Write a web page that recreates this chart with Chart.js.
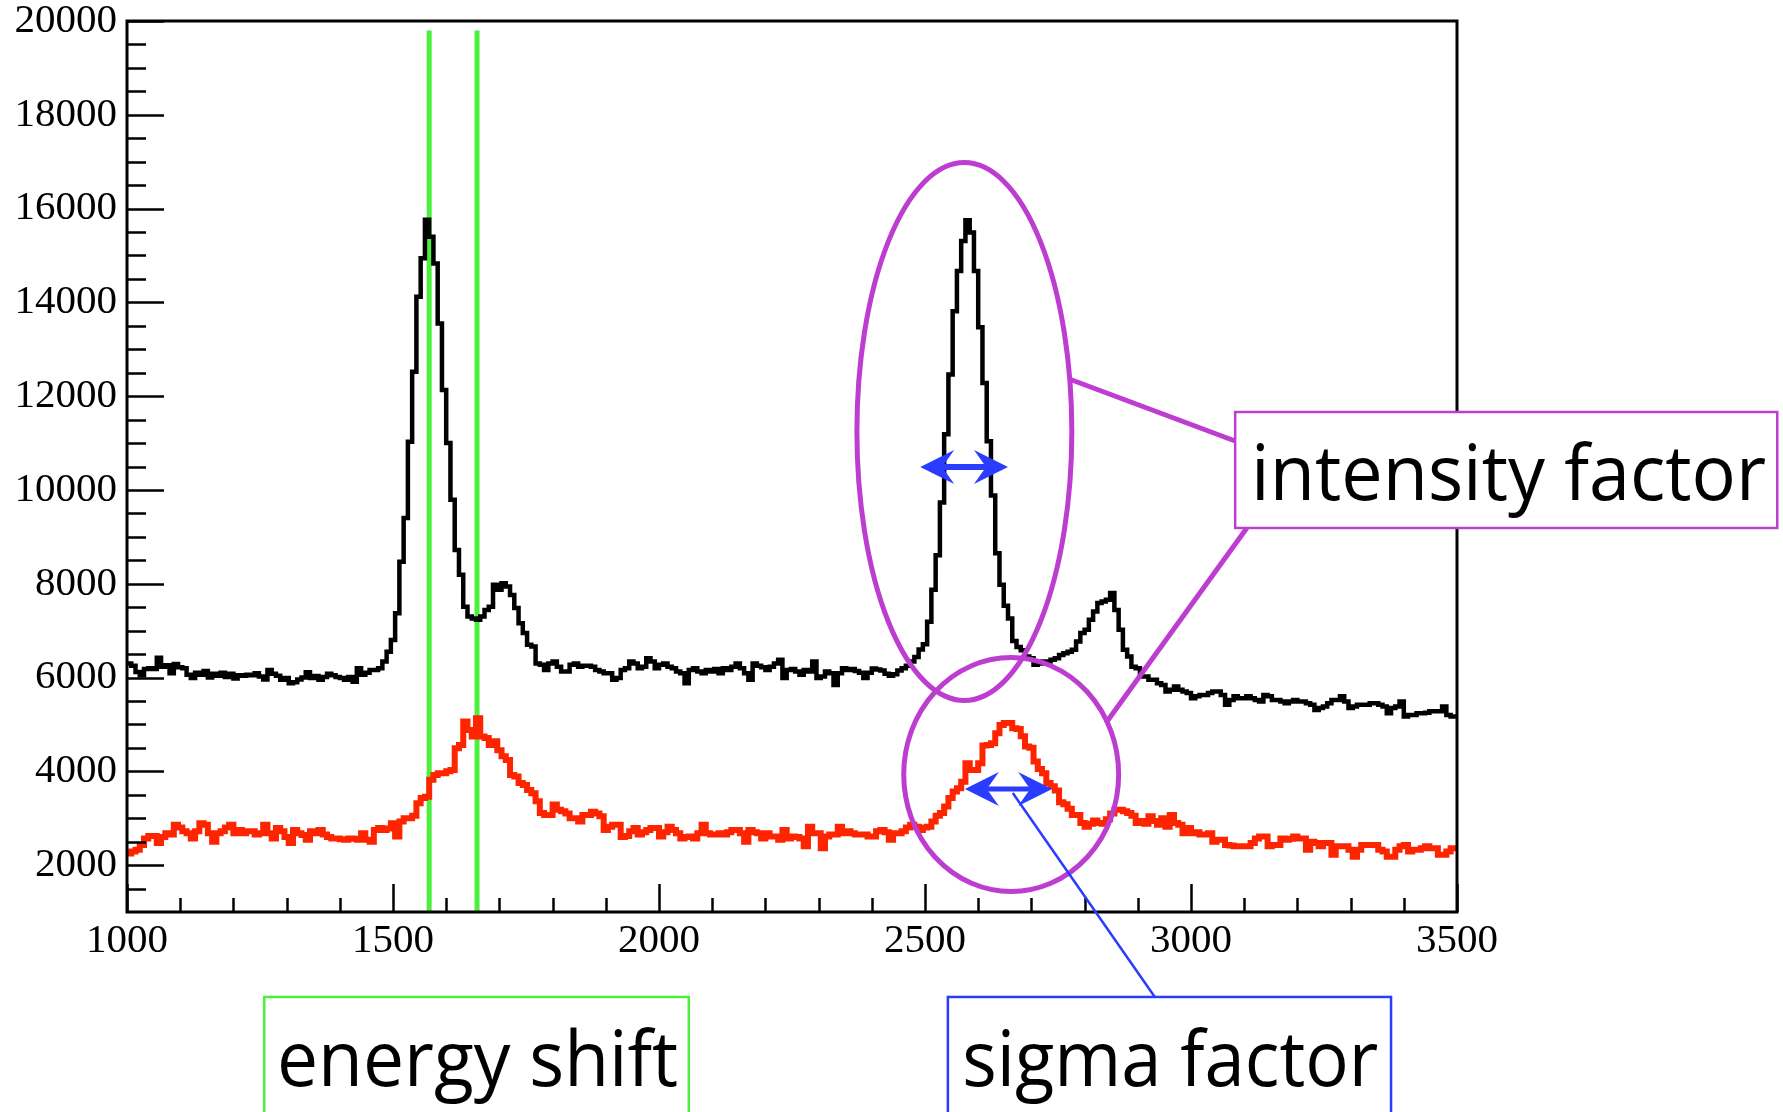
<!DOCTYPE html>
<html>
<head>
<meta charset="utf-8">
<script src="https://cdn.jsdelivr.net/npm/chart.js@4.4.1/dist/chart.umd.min.js"></script>
<style>
  html, body { margin: 0; padding: 0; background: #fff; }
</style>
</head>
<body>
<canvas id="spectrum" width="1783" height="1112"></canvas>
<script>
// histogram binning (channel units)
const binStart = 1000;
const binWidth = 8;

// upper spectrum (black), one value per bin starting at binStart
const spectrumTop = [
  6300, 6250, 6120, 6050, 6180, 6200, 6180, 6420, 6230, 6260,
  6090, 6290, 6220, 6200, 6060, 5990, 6100, 6060, 6140, 6000,
  6080, 6040, 6100, 6010, 6080, 5980, 6050, 6040, 6060, 6050,
  6090, 6020, 5960, 6160, 6080, 6040, 5950, 5990, 5880, 5900,
  5960, 6000, 6110, 5990, 6030, 5950, 6010, 6080, 6050, 6010,
  5990, 5950, 6010, 5910, 6200, 6060, 6100, 6160, 6160, 6200,
  6340, 6550, 6800, 7370, 8470, 9400, 11030, 12520, 14120, 14940,
  15760, 15400, 14830, 13550, 12130, 11000, 9790, 8720, 8190, 7510,
  7300, 7260, 7230, 7300, 7440, 7510, 7980, 7870, 8010, 7940,
  7760, 7480, 7160, 6950, 6700, 6660, 6300, 6270, 6160, 6300,
  6340, 6230, 6130, 6130, 6270, 6300, 6230, 6250, 6250, 6230,
  6160, 6130, 6090, 6090, 5950, 5990, 6160, 6200, 6340, 6300,
  6200, 6230, 6410, 6340, 6200, 6270, 6300, 6230, 6200, 6130,
  6090, 5880, 6160, 6200, 6130, 6090, 6160, 6130, 6180, 6090,
  6200, 6160, 6230, 6300, 6200, 6090, 5950, 6300, 6250, 6220,
  6160, 6230, 6300, 6380, 5990, 6160, 6180, 6130, 6060, 6160,
  6130, 6340, 5990, 6020, 6130, 6090, 5840, 6090, 6200, 6160,
  6180, 6140, 6100, 5990, 6100, 6190, 6170, 6150, 6080, 6040,
  6070, 6150, 6200, 6250, 6340, 6440, 6600, 6710, 7190, 7870,
  8610, 9730, 11190, 12460, 13810, 14670, 15310, 15750, 15490, 14670,
  13470, 12280, 11040, 9880, 8650, 7980, 7530, 7260, 6780, 6650,
  6580, 6450, 6410, 6270, 6300, 6340, 6340, 6380, 6410, 6480,
  6520, 6550, 6590, 6770, 6950, 7020, 7230, 7410, 7590, 7620,
  7660, 7800, 7440, 7020, 6590, 6450, 6230, 6200, 6020, 6020,
  5950, 5950, 5880, 5840, 5700, 5740, 5810, 5740, 5700, 5670,
  5560, 5600, 5630, 5630, 5670, 5700, 5700, 5630, 5420, 5520,
  5600, 5560, 5560, 5600, 5560, 5520, 5490, 5630, 5600, 5520,
  5520, 5490, 5450, 5490, 5520, 5490, 5490, 5450, 5420, 5310,
  5350, 5380, 5450, 5520, 5520, 5600, 5490, 5350, 5380, 5420,
  5420, 5420, 5450, 5450, 5420, 5380, 5240, 5350, 5380, 5490,
  5170, 5200, 5200, 5240, 5240, 5250, 5280, 5280, 5280, 5380,
  5200, 5170, 5170
];

// lower spectrum (red)
const spectrumBottom = [
  2250, 2290, 2330, 2430, 2570, 2620, 2620, 2470, 2600, 2680,
  2650, 2860, 2800, 2720, 2680, 2570, 2720, 2890, 2860, 2680,
  2500, 2680, 2720, 2800, 2860, 2680, 2750, 2680, 2720, 2720,
  2650, 2680, 2860, 2680, 2570, 2790, 2720, 2600, 2470, 2750,
  2680, 2640, 2540, 2720, 2680, 2750, 2650, 2600, 2570, 2570,
  2550, 2540, 2570, 2560, 2540, 2680, 2540, 2500, 2750, 2790,
  2750, 2780, 2890, 2610, 2930, 3000, 3000, 3050, 3320, 3430,
  3460, 3820, 3920, 3960, 3960, 4000, 4030, 4490, 4560, 5060,
  4880, 4740, 5130, 4740, 4710, 4560, 4640, 4450, 4320, 4240,
  3920, 3890, 3750, 3710, 3600, 3530, 3360, 3110, 3070, 3070,
  3290, 3180, 3150, 3100, 3000, 3000, 2930, 3070, 3070, 3140,
  3100, 3040, 2750, 2820, 2860, 2860, 2600, 2620, 2720, 2790,
  2650, 2700, 2750, 2790, 2790, 2610, 2700, 2820, 2750, 2680,
  2570, 2600, 2610, 2570, 2680, 2860, 2680, 2650, 2650, 2680,
  2650, 2700, 2750, 2750, 2680, 2500, 2750, 2700, 2680, 2570,
  2680, 2610, 2610, 2540, 2750, 2570, 2610, 2600, 2570, 2400,
  2820, 2680, 2680, 2360, 2610, 2650, 2650, 2820, 2680, 2720,
  2680, 2650, 2650, 2650, 2610, 2610, 2720, 2750, 2700, 2540,
  2680, 2680, 2720, 2800, 2860, 2820, 2750, 2800, 2820, 2930,
  3050, 3110, 3250, 3430, 3570, 3640, 3780, 4170, 4030, 4030,
  4170, 4550, 4560, 4600, 4810, 4990, 5030, 5030, 4920, 4900,
  4750, 4530, 4500, 4210, 4050, 3960, 3750, 3680, 3590, 3340,
  3300, 3200, 3070, 3070, 2900, 2820, 2880, 2950, 2900, 2880,
  2980, 3100, 3180, 3180, 3150, 3110, 3050, 2900, 2940, 2880,
  3040, 2940, 2860, 3000, 2820, 3070, 2900, 2860, 2680, 2790,
  2680, 2700, 2650, 2650, 2680, 2500, 2540, 2540, 2430, 2420,
  2400, 2400, 2400, 2400, 2470, 2570, 2610, 2610, 2400, 2430,
  2430, 2570, 2540, 2560, 2610, 2570, 2570, 2330, 2500, 2470,
  2400, 2470, 2470, 2220, 2400, 2400, 2400, 2330, 2180, 2330,
  2430, 2430, 2430, 2430, 2330, 2290, 2180, 2180, 2330, 2400,
  2430, 2290, 2330, 2330, 2360, 2400, 2360, 2360, 2220, 2220,
  2290, 2360, 2360
];

// vertical markers for the energy shift
const shiftMarkers = [1568, 1658];
const markerRange = [1000, 19800];

// axis ticks
const xTicks = [1000, 1500, 2000, 2500, 3000, 3500];
const yTicks = [2000, 4000, 6000, 8000, 10000, 12000, 14000, 16000, 18000, 20000];
const xMinorStep = 100;
const yMinorStep = 500;

// histogram -> stepped points (value holds until the next bin edge)
function toSteps(values) {
  const pts = values.map((v, i) => ({ x: binStart + i * binWidth, y: v }));
  pts.push({ x: binStart + values.length * binWidth, y: values[values.length - 1] });
  return pts;
}

const PURPLE = '#bd3dd1';
const BLUE = '#2a3cff';
const GREEN = '#4cf03c';

// annotations, placed in data units so they follow the axes
const notes = {
  ellipses: [
    { cx: 2574, cy: 11246, rx: 202, ry: 5736 },
    { cx: 2662, cy: 3932, rx: 202, ry: 2495 }
  ],
  arrows: [
    { x1: 2491, x2: 2656, y: 10490, shaft: 6 },
    { x1: 2575, x2: 2739, y: 3623, shaft: 5 }
  ],
  links: [
    { x1: 2771, y1: 12366, x2: 3083, y2: 11044, color: PURPLE, w: 5 },
    { x1: 2840, y1: 5031, x2: 3105, y2: 9189, color: PURPLE, w: 5 },
    { x1: 2665, y1: 3538, x2: 2932, y2: -812, color: BLUE, w: 2.5 }
  ],
  boxes: [
    { x1: 3083, x2: 4102, y1: 11662, y2: 9189, color: PURPLE,
      text: 'intensity factor', tx1: 3113, tx2: 4081, ty: 9786 },
    { x1: 1258, x2: 2056, y1: -812, y2: -3600, color: GREEN,
      text: 'energy shift', tx1: 1282, tx2: 2036, ty: -2710 },
    { x1: 2543, x2: 3376, y1: -812, y2: -3600, color: BLUE,
      text: 'sigma factor', tx1: 2570, tx2: 3352, ty: -2710 }
  ]
};

const frameAndNotes = {
  id: 'frameAndNotes',
  afterDatasetsDraw(chart) {
    const { ctx, chartArea: a, scales: { x, y } } = chart;
    ctx.save();
    ctx.strokeStyle = '#000';
    ctx.lineWidth = 2.5;
    ctx.beginPath();
    for (let k = 0; x.min + k * xMinorStep <= x.max; k++) {
      const v = x.min + k * xMinorStep;
      const px = Math.round(x.getPixelForValue(v)) + 0.5;
      const len = xTicks.includes(v) ? 28 : 14;
      ctx.moveTo(px, a.bottom);
      ctx.lineTo(px, a.bottom - len);
    }
    for (let k = 1; y.min + k * yMinorStep <= y.max; k++) {
      const v = y.min + k * yMinorStep;
      const py = Math.round(y.getPixelForValue(v)) + 0.5;
      const len = yTicks.includes(v) ? 37 : 19;
      ctx.moveTo(a.left, py);
      ctx.lineTo(a.left + len, py);
    }
    ctx.stroke();
    ctx.lineWidth = 3;
    ctx.strokeRect(a.left, a.top, a.right - a.left, a.bottom - a.top);
    ctx.restore();
  },
  afterDraw(chart) {
    const { ctx, scales: { x, y } } = chart;
    const X = v => x.getPixelForValue(v);
    const Y = v => y.getPixelForValue(v);
    ctx.save();

    // ellipses
    ctx.strokeStyle = PURPLE;
    ctx.lineWidth = 5;
    notes.ellipses.forEach(e => {
      const cx = X(e.cx), cy = Y(e.cy);
      ctx.beginPath();
      ctx.ellipse(cx, cy, X(e.cx + e.rx) - cx, cy - Y(e.cy + e.ry), 0, 0, Math.PI * 2);
      ctx.stroke();
    });

    // connector lines
    notes.links.forEach(l => {
      ctx.strokeStyle = l.color;
      ctx.lineWidth = l.w;
      ctx.beginPath();
      ctx.moveTo(X(l.x1), Y(l.y1));
      ctx.lineTo(X(l.x2), Y(l.y2));
      ctx.stroke();
    });

    // double arrows
    ctx.fillStyle = BLUE;
    ctx.strokeStyle = BLUE;
    notes.arrows.forEach(ar => {
      const xa = X(ar.x1), xb = X(ar.x2), py = Y(ar.y);
      const L = 34, W = 17, N = 22;
      ctx.lineWidth = ar.shaft;
      ctx.beginPath();
      ctx.moveTo(xa + N, py);
      ctx.lineTo(xb - N, py);
      ctx.stroke();
      [[xa, 1], [xb, -1]].forEach(([tx, d]) => {
        ctx.beginPath();
        ctx.moveTo(tx, py);
        ctx.lineTo(tx + d * L, py - W);
        ctx.lineTo(tx + d * N, py);
        ctx.lineTo(tx + d * L, py + W);
        ctx.closePath();
        ctx.fill();
      });
    });

    // labelled boxes
    notes.boxes.forEach(b => {
      const x1 = X(b.x1), x2 = X(b.x2), y1 = Y(b.y1), y2 = Y(b.y2);
      ctx.fillStyle = '#fff';
      ctx.fillRect(x1, y1, x2 - x1, y2 - y1);
      ctx.strokeStyle = b.color;
      ctx.lineWidth = 2.5;
      ctx.strokeRect(x1, y1, x2 - x1, y2 - y1);
      ctx.fillStyle = '#000';
      ctx.font = '500 76px "Open Sans"';
      ctx.textBaseline = 'alphabetic';
      const w = ctx.measureText(b.text).width;
      const tx1 = X(b.tx1), tx2 = X(b.tx2);
      ctx.save();
      ctx.translate(tx1, Y(b.ty));
      ctx.scale((tx2 - tx1) / w, 1);
      ctx.fillText(b.text, 0, 0);
      ctx.restore();
    });
    ctx.restore();
  }
};

const datasets = [
  {
    data: toSteps(spectrumTop),
    borderColor: '#000',
    borderWidth: 4.5,
    stepped: 'before',
    pointRadius: 0
  },
  {
    data: toSteps(spectrumBottom),
    borderColor: '#ff2400',
    borderWidth: 6,
    stepped: 'before',
    pointRadius: 0
  }
];
shiftMarkers.forEach(m => {
  datasets.push({
    data: markerRange.map(v => ({ x: m, y: v })),
    borderColor: GREEN,
    borderWidth: 5,
    pointRadius: 0
  });
});

new Chart(document.getElementById('spectrum'), {
  type: 'line',
  data: { datasets },
  plugins: [frameAndNotes],
  options: {
    responsive: false,
    animation: false,
    devicePixelRatio: 1,
    layout: { padding: { left: 0, right: 326, top: 21, bottom: 0 } },
    plugins: { legend: { display: false }, tooltip: { enabled: false } },
    scales: {
      x: {
        type: 'linear',
        min: 1000,
        max: 3500,
        afterBuildTicks: s => { s.ticks = xTicks.map(v => ({ value: v })); },
        afterFit: s => { s.height = 200; s.paddingLeft = 0; s.paddingRight = 0; },
        grid: { display: false, drawTicks: false },
        border: { display: false },
        ticks: {
          color: '#000',
          padding: 9,
          maxRotation: 0,
          font: { family: 'Liberation Serif', size: 41, lineHeight: 1 },
          callback: v => String(v)
        }
      },
      y: {
        type: 'linear',
        min: 1000,
        max: 20000,
        afterBuildTicks: s => { s.ticks = yTicks.map(v => ({ value: v })); },
        afterFit: s => { s.width = 127; s.paddingTop = 0; s.paddingBottom = 0; },
        grid: { display: false, drawTicks: false },
        border: { display: false },
        ticks: {
          color: '#000',
          padding: 10,
          font: { family: 'Liberation Serif', size: 41, lineHeight: 1 },
          callback: v => String(v)
        }
      }
    }
  }
});
</script>
</body>
</html>
